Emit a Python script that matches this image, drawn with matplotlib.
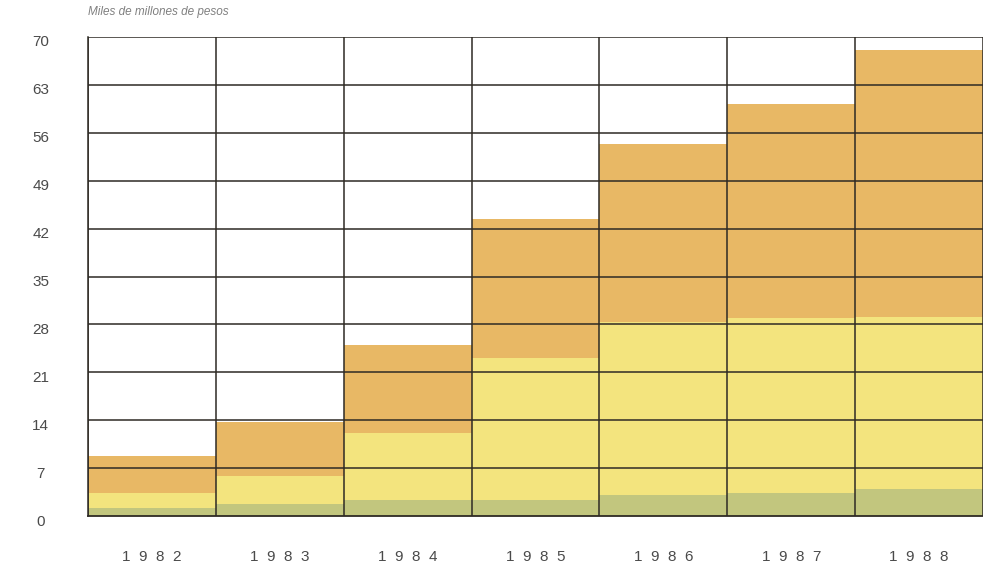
import numpy as np
import matplotlib
matplotlib.use('Agg')
from matplotlib import pyplot as plt
from matplotlib import transforms

# datos (miles de millones de pesos)
years = ['1982', '1983', '1984', '1985', '1986', '1987', '1988']
green = [1.1, 1.7, 2.3, 2.4, 3.0, 3.3, 4.0]
yellow_top = [3.3, 5.9, 12.2, 23.1, 28.3, 29.0, 29.1]
orange_top = [8.7, 13.8, 25.0, 43.4, 54.3, 60.2, 68.1]
yticks = [0, 7, 14, 21, 28, 35, 42, 49, 56, 63, 70]

c_green = '#c2c67e'
c_yellow = '#f3e47e'
c_orange = '#e8b865'
c_line = '#2e2a24'
c_text = '#4a4a4a'

plt.rcParams['font.family'] = ['Liberation Sans', 'DejaVu Sans']

green = np.array(green)
yellow = np.array(yellow_top) - green
orange = np.array(orange_top) - np.array(yellow_top)
x = np.arange(len(years))

fig = plt.figure(figsize=(9.83, 5.71), dpi=100)
ax = fig.add_axes([88 / 983, 1 - 516 / 571, 1 - 88 / 983, (516 - 37) / 571])

ax.bar(x, green, width=1.0, align='edge', color=c_green, linewidth=0)
ax.bar(x, yellow, bottom=green, width=1.0, align='edge', color=c_yellow, linewidth=0)
ax.bar(x, orange, bottom=np.array(yellow_top), width=1.0, align='edge', color=c_orange, linewidth=0)

# rejilla
for t in yticks[1:]:
    ax.axhline(t, color=c_line, lw=1.1, zorder=3)
for i in range(len(years) + 1):
    ax.axvline(i, color=c_line, lw=1.1, zorder=3)

ax.set_xlim(0, len(years))
ax.set_ylim(0, 70)
for s in ['top', 'right']:
    ax.spines[s].set_visible(False)
ax.spines['left'].set_color(c_line)
ax.spines['bottom'].set_color(c_line)
ax.spines['left'].set_linewidth(1.1)
ax.spines['bottom'].set_linewidth(1.3)
ax.spines['left'].set_zorder(4)
ax.spines['bottom'].set_zorder(4)

ax.set_yticks(yticks)
ax.set_yticklabels([str(t) for t in yticks], color=c_text, fontsize=11)
ax.tick_params(axis='y', length=0, pad=34)
offset = transforms.ScaledTranslation(0, -4 / 100, fig.dpi_scale_trans)
for lab in ax.get_yticklabels():
    lab.set_horizontalalignment('center')
    lab.set_transform(lab.get_transform() + offset)
ax.set_xticks([])

# etiquetas de los años, con espaciado entre cifras
for i, y in enumerate(years):
    ax.text(i + 0.5, -6.0, '  '.join(y), ha='center', va='center',
            fontsize=11, color=c_text)

fig.text(88 / 983, 1 - 12 / 571, 'Miles de millones de pesos', ha='left', va='center',
         fontsize=8.5, style='italic', color='#808080')

fig.savefig('out.png', dpi=100, facecolor='white')
